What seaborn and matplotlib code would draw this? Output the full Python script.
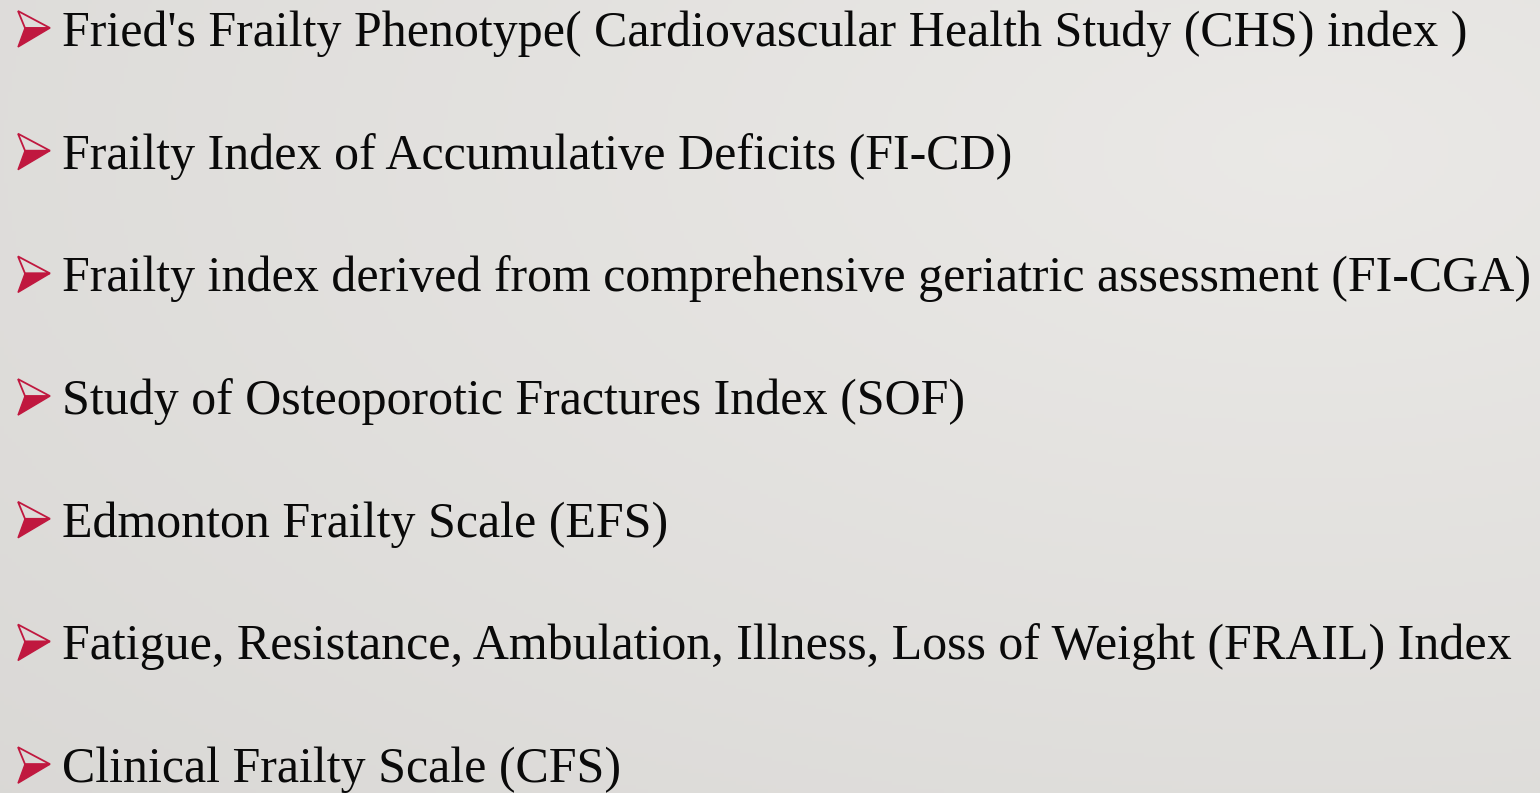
"""Slide: frailty assessment instruments (bullet list)."""

import matplotlib.pyplot as plt
import numpy as np
import seaborn as sns
from matplotlib.patches import Polygon

ITEMS = [
    "Fried's Frailty Phenotype( Cardiovascular Health Study (CHS) index )",
    "Frailty Index of Accumulative Deficits (FI-CD)",
    "Frailty index derived from comprehensive geriatric assessment (FI-CGA)",
    "Study of Osteoporotic Fractures Index (SOF)",
    "Edmonton Frailty Scale (EFS)",
    "Fatigue, Resistance, Ambulation, Illness, Loss of Weight (FRAIL) Index",
    "Clinical Frailty Scale (CFS)",
]

BULLET_COLOR = "#c0183f"
TEXT_COLOR = "#0a0a0a"

W, H = 1540, 793

sns.set_theme(style="white")
plt.rcParams["font.family"] = ["Liberation Serif", "DejaVu Sans"]

fig = plt.figure(figsize=(W / 100, H / 100), dpi=100)
ax = fig.add_axes([0, 0, 1, 1])
ax.set_xlim(0, W)
ax.set_ylim(H, 0)
ax.axis("off")

# soft grey background, a bit lighter towards the upper right
yy, xx = np.mgrid[0:H:4, 0:W:4]
d = np.hypot((xx - 1300) / W, (yy - 150) / H)
shade = 0.915 - 0.055 * np.clip(d, 0, 1.2)
bg = np.dstack([shade + 0.004, shade - 0.002, shade - 0.012])
ax.imshow(np.clip(bg, 0, 1), extent=[0, W, H, 0], aspect="auto", zorder=0)


def arrow_bullet(ax, x, base):
    # wingdings-style arrowhead: outlined upper half, filled lower half
    tl, tip, bl, notch = (x, base - 35), (x + 32, base - 18), (x, base + 1), (x + 7, base - 18)
    ax.add_patch(Polygon([tl, tip, notch], closed=True, facecolor="none",
                         edgecolor=BULLET_COLOR, linewidth=1.3, zorder=2))
    ax.add_patch(Polygon([notch, tip, bl], closed=True, facecolor=BULLET_COLOR,
                         edgecolor=BULLET_COLOR, linewidth=1.0, zorder=2))


y0, step = 46, 122.7
for i, item in enumerate(ITEMS):
    y = y0 + i * step
    arrow_bullet(ax, 18, y)
    ax.text(62, y, item, fontsize=36, color=TEXT_COLOR,
            va="baseline", ha="left", zorder=2)

fig.savefig("out.png", dpi=100)
